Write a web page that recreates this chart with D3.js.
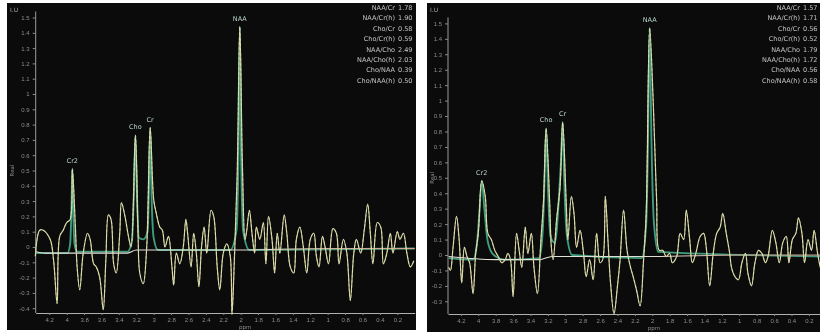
<!DOCTYPE html>
<html>
<head>
<meta charset="utf-8">
<script src="https://cdn.jsdelivr.net/npm/d3@7/dist/d3.min.js"></script>
<style>
  html, body { margin: 0; padding: 0; background: #fff; }
  svg { display: block; font-family: "DejaVu Sans", sans-serif; }
</style>
</head>
<body>
<svg id="chart" width="820" height="334"></svg>
<script>
// ---- data ----
const xTickValues = [4.2, 4, 3.8, 3.6, 3.4, 3.2, 3, 2.8, 2.6, 2.4, 2.2, 2, 1.8, 1.6, 1.4, 1.2, 1, 0.8, 0.6, 0.4, 0.2, 0];
const leftYTicks = [1.5, 1.4, 1.3, 1.2, 1.1, 1, 0.9, 0.8, 0.7, 0.6, 0.5, 0.4, 0.3, 0.2, 0.1, 0, -0.1, -0.2, -0.3, -0.4];
const rightYTicks = [1.5, 1.4, 1.3, 1.2, 1.1, 1, 0.9, 0.8, 0.7, 0.6, 0.5, 0.4, 0.3, 0.2, 0.1, 0, -0.1, -0.2, -0.3];

const peakNames = ["Cr2", "Cho", "Cr", "NAA"];
const leftPeakPpm = [3.935, 3.21, 3.04, 2.01];
const leftPeakAmp = [0.51, 0.73, 0.78, 1.44];
const rightPeakPpm = [3.96, 3.22, 3.03, 2.03];
const rightPeakAmp = [0.48, 0.82, 0.86, 1.47];

const ratioLabels = ["NAA/Cr", "NAA/Cr(h)", "Cho/Cr", "Cho/Cr(h)", "NAA/Cho", "NAA/Cho(h)", "Cho/NAA", "Cho/NAA(h)"];
const leftRatios = ["1.78", "1.90", "0.58", "0.59", "2.49", "2.03", "0.39", "0.50"];
const rightRatios = ["1.57", "1.71", "0.56", "0.52", "1.79", "1.72", "0.56", "0.58"];

const leftPpm = [4.36, 4.31, 4.27, 4.19, 4.15, 4.11, 4.08, 4.04, 4.00, 3.96, 3.935, 3.90, 3.88, 3.85, 3.81, 3.76, 3.73, 3.69, 3.66, 3.62,
  3.58, 3.55, 3.52, 3.49, 3.46, 3.43, 3.39, 3.37, 3.33, 3.29, 3.26, 3.21, 3.18, 3.16, 3.12, 3.08, 3.04, 3.00, 2.97, 2.93,
  2.90, 2.87, 2.83, 2.79, 2.77, 2.74, 2.70, 2.66, 2.63, 2.61, 2.57, 2.54, 2.51, 2.48, 2.45, 2.42, 2.39, 2.34, 2.31, 2.27,
  2.24, 2.20, 2.16, 2.12, 2.10, 2.07, 2.04, 2.01, 1.98, 1.95, 1.93, 1.90, 1.87, 1.84, 1.82, 1.78, 1.74, 1.71, 1.68, 1.64,
  1.61, 1.58, 1.55, 1.50, 1.47, 1.43, 1.39, 1.36, 1.32, 1.28, 1.24, 1.20, 1.16, 1.13, 1.10, 1.06, 1.03, 0.99, 0.94, 0.90,
  0.87, 0.82, 0.78, 0.74, 0.70, 0.67, 0.62, 0.58, 0.54, 0.51, 0.48, 0.43, 0.39, 0.36, 0.32, 0.28, 0.25, 0.20, 0.17, 0.13,
  0.09, 0.05, 0.01];
const leftAmp = [-0.06, 0.11, 0.11, 0.05, -0.09, -0.37, 0.07, 0.11, 0.16, 0.18, 0.51, 0.13, -0.13, -0.28, -0.04, 0.09, 0.05, -0.11, -0.13, -0.20,
  -0.41, -0.09, 0.21, 0.18, -0.11, -0.17, 0.09, 0.29, 0.20, 0.07, 0.00, 0.73, 0.09, -0.17, -0.24, 0.00, 0.78, 0.31, 0.22, 0.13,
  0.11, 0.00, 0.07, -0.13, -0.25, -0.04, -0.11, 0.00, 0.18, 0.09, -0.13, 0.09, -0.04, -0.26, 0.00, 0.13, -0.04, 0.24, 0.20, -0.13,
  -0.28, -0.04, 0.02, -0.06, -0.44, -0.04, 0.48, 1.44, 0.53, 0.05, 0.11, 0.24, 0.09, -0.04, 0.13, 0.05, 0.16, -0.11, 0.20, 0.05,
  -0.17, 0.09, -0.04, 0.21, 0.09, -0.13, -0.17, 0.05, 0.13, 0.00, -0.17, 0.05, 0.09, -0.06, -0.13, 0.07, 0.00, -0.11, 0.12, 0.09,
  -0.11, 0.05, -0.04, -0.35, -0.04, 0.05, -0.04, 0.11, 0.28, 0.09, -0.11, 0.16, 0.13, -0.11, -0.04, 0.09, -0.04, 0.10, 0.05, 0.09,
  -0.04, -0.13, -0.09];

const rightPpm = [4.34, 4.32, 4.29, 4.25, 4.22, 4.19, 4.16, 4.13, 4.10, 4.06, 4.03, 4.00, 3.96, 3.92, 3.89, 3.85, 3.81, 3.77, 3.73, 3.69,
  3.66, 3.63, 3.60, 3.56, 3.53, 3.50, 3.46, 3.43, 3.39, 3.36, 3.32, 3.28, 3.25, 3.22, 3.18, 3.16, 3.14, 3.10, 3.06, 3.03,
  2.99, 2.97, 2.93, 2.90, 2.87, 2.83, 2.79, 2.76, 2.72, 2.68, 2.64, 2.60, 2.57, 2.54, 2.51, 2.48, 2.44, 2.40, 2.37, 2.33,
  2.29, 2.25, 2.22, 2.18, 2.14, 2.10, 2.07, 2.03, 1.99, 1.95, 1.92, 1.88, 1.84, 1.80, 1.77, 1.72, 1.68, 1.64, 1.61, 1.57,
  1.54, 1.50, 1.45, 1.41, 1.38, 1.34, 1.30, 1.26, 1.22, 1.19, 1.15, 1.11, 1.09, 1.05, 1.01, 0.97, 0.93, 0.90, 0.86, 0.82,
  0.78, 0.74, 0.70, 0.67, 0.62, 0.58, 0.54, 0.50, 0.46, 0.43, 0.39, 0.35, 0.32, 0.28, 0.25, 0.21, 0.17, 0.14, 0.10, 0.07];
const rightAmp = [-0.08, -0.10, 0.05, 0.25, 0.10, -0.18, 0.05, -0.01, -0.05, -0.25, 0.01, 0.14, 0.48, 0.38, 0.14, 0.10, 0.03, -0.01, -0.05, -0.03,
  0.01, -0.03, -0.27, 0.14, 0.03, -0.08, 0.18, 0.01, 0.14, -0.08, -0.25, 0.10, 0.35, 0.82, 0.35, 0.05, -0.03, 0.23, 0.44, 0.86,
  0.35, 0.10, 0.38, 0.27, 0.05, 0.16, 0.01, -0.14, -0.03, -0.16, 0.14, -0.05, -0.03, 0.38, 0.10, -0.18, -0.38, -0.20, -0.03, 0.29,
  0.03, -0.08, -0.14, -0.23, -0.33, -0.03, 0.27, 1.47, 1.00, 0.35, 0.03, 0.03, -0.01, 0.01, -0.05, -0.01, 0.14, 0.10, 0.29, 0.10,
  -0.05, 0.01, 0.12, 0.14, 0.05, -0.20, 0.01, 0.14, 0.18, 0.27, 0.14, 0.01, -0.08, -0.14, -0.16, -0.05, 0.01, -0.12, -0.20, -0.05,
  0.03, 0.01, -0.05, -0.01, 0.16, 0.08, -0.05, 0.08, 0.12, -0.05, 0.10, 0.14, 0.24, 0.14, -0.05, 0.10, 0.03, 0.16, 0.01, -0.08];

// fitted peaks (green)
const leftFitPpm = [4.36, 3.99, 3.96, 3.945, 3.935, 3.925, 3.91, 3.88, 3.30, 3.25, 3.23, 3.21, 3.19, 3.17, 3.12, 3.07, 3.055, 3.04, 3.025, 3.00, 2.95, 2.12, 2.05, 2.025, 2.01, 1.995, 1.97, 1.90, 0.0];
const leftFitAmp = [-0.04, -0.04, 0.02, 0.25, 0.51, 0.25, 0.02, -0.03, -0.03, 0.04, 0.30, 0.73, 0.30, 0.06, 0.05, 0.10, 0.35, 0.78, 0.35, 0.06, -0.02, -0.02, 0.10, 0.60, 1.44, 0.60, 0.10, -0.02, -0.01];
const rightFitPpm = [4.34, 4.06, 4.02, 3.99, 3.96, 3.93, 3.90, 3.86, 3.80, 3.70, 3.30, 3.26, 3.24, 3.22, 3.20, 3.17, 3.12, 3.07, 3.05, 3.03, 3.01, 2.98, 2.92, 2.12, 2.07, 2.05, 2.03, 2.01, 1.98, 1.93, 0.0];
const rightFitAmp = [-0.02, -0.03, 0.05, 0.25, 0.48, 0.30, 0.12, 0.03, -0.01, -0.03, -0.02, 0.15, 0.45, 0.82, 0.45, 0.12, 0.08, 0.40, 0.60, 0.86, 0.45, 0.12, 0.00, -0.02, 0.20, 0.70, 1.47, 0.75, 0.20, 0.02, -0.01];

// baselines (white)
const leftBasePpm = [4.36, 4.25, 3.30, 3.20, 2.00, 1.00, 0.0];
const leftBaseAmp = [-0.03, -0.04, -0.04, -0.02, -0.02, -0.01, -0.01];
const rightBasePpm = [4.34, 3.80, 3.30, 3.15, 2.00, 1.00, 0.0];
const rightBaseAmp = [-0.01, -0.03, -0.03, -0.01, -0.01, 0.00, 0.00];

// ---- layout ----
const panels = [
  { box: [7, 3, 409, 327], x0: 35.7, x1: 414.7, xDom: [4.356, 0], y0: 247, yUnit: 153, axisY: 313,
    yTicks: leftYTicks, ppm: leftPpm, amp: leftAmp, fitPpm: leftFitPpm, fitAmp: leftFitAmp,
    basePpm: leftBasePpm, baseAmp: leftBaseAmp, peakPpm: leftPeakPpm, peakAmp: leftPeakAmp,
    ratios: leftRatios, legendX: 395, unit: "I.U" },
  { box: [427, 3, 393, 329], x0: 448, x1: 826.3, xDom: [4.348, 0], y0: 255, yUnit: 154.4, axisY: 314,
    yTicks: rightYTicks, ppm: rightPpm, amp: rightAmp, fitPpm: rightFitPpm, fitAmp: rightFitAmp,
    basePpm: rightBasePpm, baseAmp: rightBaseAmp, peakPpm: rightPeakPpm, peakAmp: rightPeakAmp,
    ratios: rightRatios, legendX: 800, unit: "I.U" }
];

const svg = d3.select("#chart");
const defs = svg.append("defs");
defs.append("filter").attr("id", "soft")
  .append("feGaussianBlur").attr("stdDeviation", 0.65);

const fmt = d => String(+d.toFixed(1));

panels.forEach((p, pi) => {
  const [bx, by, bw, bh] = p.box;
  const right = bx + bw;
  defs.append("clipPath").attr("id", "clip" + pi)
    .append("rect").attr("x", bx).attr("y", by).attr("width", bw).attr("height", bh);

  const root = svg.append("g").attr("clip-path", `url(#clip${pi})`);
  root.append("rect").attr("x", bx).attr("y", by).attr("width", bw).attr("height", bh).attr("fill", "#0b0b0b");

  const g = root.append("g").attr("filter", "url(#soft)");

  const x = d3.scaleLinear().domain(p.xDom).range([p.x0, p.x1]);
  const y = d3.scaleLinear().domain([0, 1]).range([p.y0, p.y0 - p.yUnit]);

  // y axis
  const yAxis = g.append("g")
    .attr("transform", `translate(${p.x0},0)`)
    .call(d3.axisLeft(y).tickValues(p.yTicks).tickFormat(fmt).tickSize(3).tickSizeOuter(0));
  yAxis.select(".domain").attr("stroke", "#9a9a9a").attr("d", `M0,${y(p.yTicks[0]) - 6}V${p.axisY}`);
  yAxis.selectAll(".tick line").attr("stroke", "#8a8a8a");
  yAxis.selectAll(".tick text").attr("fill", "#8c8c8c").attr("font-size", 6).attr("x", -6);

  // x axis (labels kept inside the panel)
  const ticksIn = xTickValues.filter(v => x(v) + 5 < right);
  const xAxis = g.append("g")
    .attr("transform", `translate(0,${p.axisY})`)
    .call(d3.axisBottom(x).tickValues(ticksIn).tickFormat(fmt).tickSize(2).tickSizeOuter(0));
  xAxis.select(".domain").attr("stroke", "#b0b0b0").attr("stroke-width", 1.2);
  xAxis.selectAll(".tick line").attr("stroke", "#8a8a8a");
  xAxis.selectAll(".tick text").attr("fill", "#8c8c8c").attr("font-size", 6).attr("y", 5);

  g.append("text").attr("x", (p.x0 + Math.min(p.x1, right)) / 2 + 20).attr("y", p.axisY + 16)
    .attr("text-anchor", "middle").attr("fill", "#8c8c8c").attr("font-size", 5.5).text("ppm");
  g.append("text").attr("transform", `translate(${bx + 7},${y(0.5)}) rotate(-90)`)
    .attr("text-anchor", "middle").attr("fill", "#8c8c8c").attr("font-size", 5.5).text("Real");
  g.append("text").attr("x", bx + 3).attr("y", by + 9)
    .attr("fill", "#a8a8a8").attr("font-size", 6).text(p.unit);

  // fitted curve (green), under the baseline so only the peaks show
  const fitLine = d3.line().x(i => x(p.fitPpm[i])).y(i => y(p.fitAmp[i])).curve(d3.curveMonotoneX);
  g.append("path").attr("d", fitLine(d3.range(p.fitPpm.length)))
    .attr("fill", "none").attr("stroke", "#3f9c7e").attr("stroke-width", 1.9);

  // baseline
  const gradId = "base" + pi;
  const grad = defs.append("linearGradient").attr("id", gradId)
    .attr("gradientUnits", "userSpaceOnUse")
    .attr("x1", p.x0).attr("x2", p.x1).attr("y1", 0).attr("y2", 0);
  grad.append("stop").attr("offset", "0%").attr("stop-color", "#e4e4dc");
  grad.append("stop").attr("offset", "55%").attr("stop-color", "#e2dcd4");
  grad.append("stop").attr("offset", "75%").attr("stop-color", "#d9a898");
  grad.append("stop").attr("offset", "100%").attr("stop-color", "#d6a48e");

  const baseLine = d3.line().x(i => x(p.basePpm[i])).y(i => y(p.baseAmp[i])).curve(d3.curveMonotoneX);
  g.append("path").attr("d", baseLine(d3.range(p.basePpm.length)))
    .attr("fill", "none").attr("stroke", `url(#${gradId})`).attr("stroke-width", 1.1);

  // raw spectrum
  const specLine = d3.line().x(i => x(p.ppm[i])).y(i => y(p.amp[i])).curve(d3.curveCatmullRom.alpha(0.5));
  g.append("path").attr("d", specLine(d3.range(p.ppm.length)))
    .attr("fill", "none").attr("stroke", "#cfcf96").attr("stroke-width", 1.2);
  g.append("path").attr("d", specLine(d3.range(p.ppm.length)))
    .attr("fill", "none").attr("stroke", "#f2f2d8").attr("stroke-width", 0.5)
    .attr("stroke-dasharray", "3,2");

  // peak labels
  g.selectAll(".peak").data(peakNames).join("text")
    .attr("x", (d, i) => x(p.peakPpm[i]))
    .attr("y", (d, i) => y(p.peakAmp[i]) - 6)
    .attr("text-anchor", "middle").attr("fill", "#b8d4cc").attr("font-size", 6.5)
    .text(d => d);

  // ratio legend
  const leg = g.append("g");
  leg.selectAll(".rl").data(ratioLabels).join("text")
    .attr("x", p.legendX).attr("y", (d, i) => by + 7 + i * 10.4)
    .attr("text-anchor", "end").attr("fill", "#c4c4c4").attr("font-size", 6.5)
    .text(d => d);
  leg.selectAll(".rv").data(p.ratios).join("text")
    .attr("x", p.legendX + 3).attr("y", (d, i) => by + 7 + i * 10.4)
    .attr("fill", "#c4c4c4").attr("font-size", 6.5)
    .text(d => d);
});
</script>
</body>
</html>
